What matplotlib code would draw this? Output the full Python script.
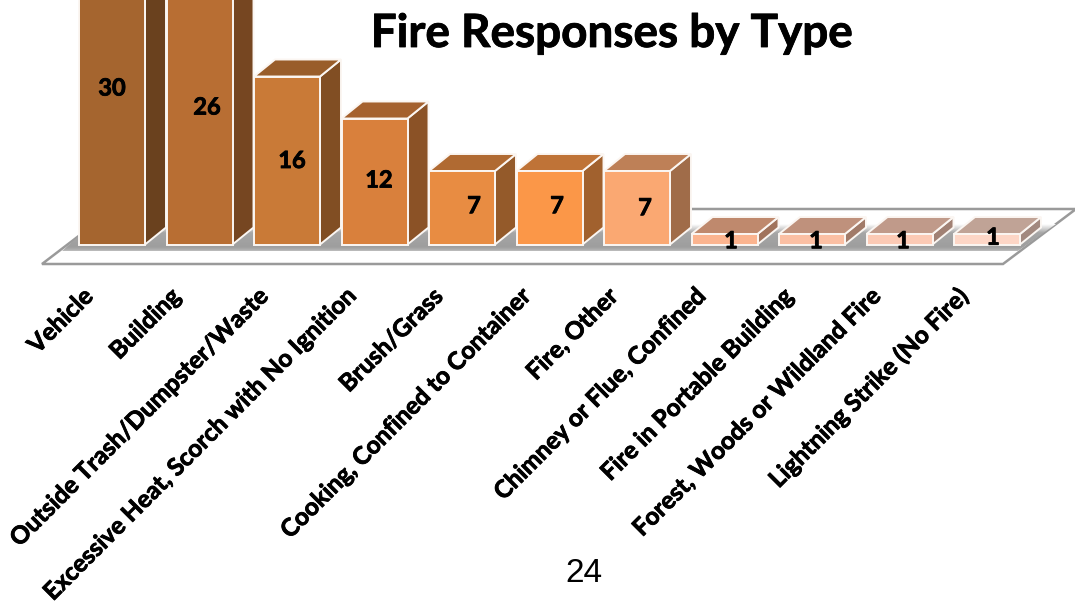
import numpy as np
import matplotlib
matplotlib.use("Agg")
import matplotlib.pyplot as plt
import matplotlib.patheffects as pe
from matplotlib.patches import Polygon
from matplotlib.colors import to_rgb, LinearSegmentedColormap

categories = ["Vehicle", "Building", "Outside Trash/Dumpster/Waste",
              "Excessive Heat, Scorch with No Ignition", "Brush/Grass",
              "Cooking, Confined to Container", "Fire, Other",
              "Chimney or Flue, Confined", "Fire in Portable Building",
              "Forest, Woods or Wildland Fire", "Lightning Strike (No Fire)"]
values = [30, 26, 16, 12, 7, 7, 7, 1, 1, 1, 1]
front_colors = ["#A5652F", "#B86E33", "#C97A37", "#D9803C", "#E88C42", "#FB9748",
                "#FAA872", "#FBB48F", "#FBBFA3", "#FCCAB5", "#FDD6C6"]
label_offsets = [(0, -1), (7.5, 1), (5, 0), (4.5, 1.5), (12, 2), (7.5, 2),
                 (8, 0), (6.5, -1.5), (4, -1.5), (3.5, -1.5), (6, 2)]

W, H = 1075, 607
PITCH, UNIT = 87.5, 10.5      # pixels per category and per count
X0, Y0 = 112.0, 244.5         # pixel position of the first bar centre on the baseline
BAR_W = 66 / PITCH
DX, DY = 21 / PITCH, 17 / UNIT
HEAVY = [pe.withStroke(linewidth=0.6, foreground="black")]


def px(x, y):
    """Pixel position (from the top left) to data coordinates."""
    return ((x - X0) / PITCH, (Y0 - y) / UNIT)


def shade(color, k):
    return tuple(c * k for c in to_rgb(color))


fig = plt.figure(figsize=(W / 100, H / 100), dpi=100, facecolor="white")
ax = fig.add_axes([0, 0, 1, 1])
ax.set_xlim(px(0, 0)[0], px(W, 0)[0])
ax.set_ylim(px(0, H)[1], px(0, 0)[1])
ax.axis("off")

# Floor plate
floor = [px(42, 264), px(1003, 264), px(1076, 209), px(114, 209)]
ax.add_patch(Polygon(floor, closed=True, facecolor="white", edgecolor="#9a9a9a",
                     lw=1.8, joinstyle="miter", zorder=1))

# Soft shadow under the bars
shadow = Polygon([px(62, 251), px(1018, 251), px(1056, 224), px(92, 224)], closed=True,
                 facecolor="none", edgecolor="none", zorder=2)
ax.add_patch(shadow)
cmap = LinearSegmentedColormap.from_list("floor_shadow", [
    (0.0, "#ffffff"), (0.30, "#a6a6a6"), (0.80, "#9e9e9e"), (0.92, "#b5b5b5"), (1.0, "#ffffff")])
(xa, ya), (xb, yb) = px(0, 224), px(W, 253)
im = ax.imshow(np.linspace(0, 1, 64)[:, None], cmap=cmap, extent=[xa, xb, yb, ya],
               aspect="auto", origin="upper", zorder=2, interpolation="bilinear")
im.set_clip_path(shadow)
ax.set_xlim(px(0, 0)[0], px(W, 0)[0])
ax.set_ylim(px(0, H)[1], px(0, 0)[1])

# Three-faced bars; drawn right to left so nearer faces stay on top
edge = dict(edgecolor="#fbf6f2", lw=1.4, joinstyle="miter")
for i, (val, col) in reversed(list(enumerate(zip(values, front_colors)))):
    l, r = i - BAR_W / 2, i + BAR_W / 2
    ax.add_patch(Polygon([(r, 0), (r + DX, DY), (r + DX, val + DY), (r, val)],
                         facecolor=shade(col, 0.64), zorder=3 + (11 - i) * 0.01, **edge))
    ax.add_patch(Polygon([(l, val), (r, val), (r + DX, val + DY), (l + DX, val + DY)],
                         facecolor=shade(col, 0.76), zorder=3 + (11 - i) * 0.01, **edge))
    ax.add_patch(Polygon([(l, 0), (r, 0), (r, val), (l, val)],
                         facecolor=col, zorder=3.2 + (11 - i) * 0.01, **edge))

# Value labels, nudged in pixels from each bar's centre
for i, (val, (ox, oy)) in enumerate(zip(values, label_offsets)):
    ax.annotate(str(val), (i, val / 2), xytext=(ox, oy), textcoords="offset pixels",
                ha="center", va="center", family="Lato", weight="bold",
                fontsize=17, color="black", zorder=5, clip_on=False, path_effects=HEAVY)

# Slanted category labels ending just under each bar
for i, name in enumerate(categories):
    ax.annotate(name, (i, 0), xytext=(-23, -48), textcoords="offset pixels",
                rotation=45, rotation_mode="anchor", ha="right", va="center",
                family="Lato", weight="bold", fontsize=17.5, color="black", zorder=5,
                path_effects=HEAVY)

ax.text(*px(612, 34), "Fire Responses by Type", ha="center", va="center",
        family="Lato", weight="bold", fontsize=33, color="black", zorder=6,
        path_effects=HEAVY)
ax.text(*px(584, 573), "24", ha="center", va="center",
        family="Liberation Sans", fontsize=24, color="black", zorder=6)

fig.savefig("out.png", dpi=100, facecolor="white")
